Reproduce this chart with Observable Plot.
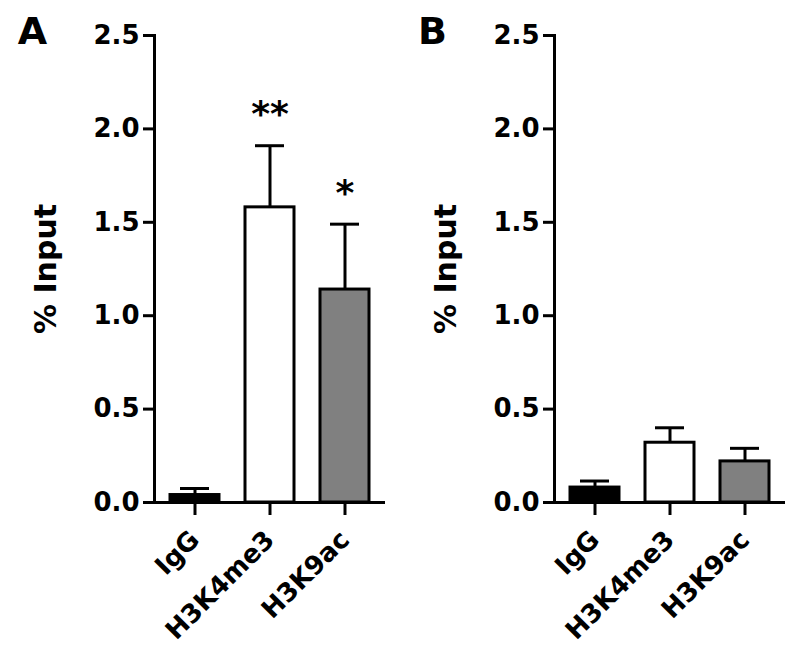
<!DOCTYPE html>
<html>
<head>
<meta charset="utf-8">
<script src="https://cdn.jsdelivr.net/npm/d3@7"></script>
<script src="https://cdn.jsdelivr.net/npm/@observablehq/plot@0.6"></script>
<style>
  html, body { margin: 0; padding: 0; background: #fff; }
  #row { display: flex; flex-direction: row; width: 800px; height: 662px; }
  #row svg { display: block; }
</style>
</head>
<body>
<div id="row"></div>
<script>
const categories = ["IgG", "H3K4me3", "H3K9ac"];
const fills = ["#000000", "#ffffff", "#808080"];
const meansA = [0.04, 1.58, 1.14];
const semA = [0.035, 0.33, 0.35];
const starsA = ["", "**", "*"];
const meansB = [0.08, 0.32, 0.22];
const semB = [0.035, 0.08, 0.07];
const starsB = ["", "", ""];
const yTicks = [0, 0.5, 1.0, 1.5, 2.0, 2.5];
const panelLabels = ["A", "B"];
const yLabel = "% Input";

function panel(letter, means, sems, stars) {
  const data = categories.map((c, i) => ({cat: c, mean: means[i], sem: sems[i], fill: fills[i], star: stars[i]}));
  const upper = d => d.mean + d.sem;
  return Plot.plot({
    width: 400,
    height: 662,
    marginTop: 35,
    marginBottom: 160,
    marginLeft: 154,
    marginRight: 15,
    style: {fontFamily: "DejaVu Sans", color: "#000", background: "#fff", overflow: "visible"},
    x: {domain: categories, paddingInner: 0.34, paddingOuter: 0.19},
    y: {domain: [0, 2.5]},
    color: {type: "identity"},
    marks: [
      Plot.ruleX(data, {x: "cat", y1: "mean", y2: upper, stroke: "#000", strokeWidth: 3}),
      Plot.tickY(data, {x: "cat", y: upper, stroke: "#000", strokeWidth: 3, insetLeft: 10, insetRight: 10}),
      Plot.barY(data, {x: "cat", y: "mean", fill: "fill", stroke: "#000", strokeWidth: 3}),
      Plot.text(data, {x: "cat", y: upper, text: "star", dy: -31, fontSize: 36, fontWeight: "bold", fill: "#000"}),
      Plot.axisY({ticks: yTicks, tickFormat: d3.format(".1f"), tickSize: 11, tickPadding: 4, strokeWidth: 3, fontSize: 26, fontWeight: "bold", label: null}),
      Plot.axisX({tickSize: 13, tickPadding: 20, strokeWidth: 3, tickRotate: -45, fontSize: 26, fontWeight: "bold", label: null}),
      Plot.frame({anchor: "left", stroke: "#000", strokeWidth: 3}),
      Plot.ruleY([0], {stroke: "#000", strokeWidth: 3}),
      Plot.text([yLabel], {text: d => d, frameAnchor: "left", textAnchor: "middle", lineAnchor: "middle", dx: -108, rotate: -90, fontSize: 30, fontWeight: "bold", fill: "#000"}),
      Plot.text([letter], {text: d => d, frameAnchor: "top-left", textAnchor: "middle", lineAnchor: "middle", dx: -122, dy: -4, fontSize: 38, fontWeight: "bold", fill: "#000"})
    ]
  });
}

const row = document.getElementById("row");
row.appendChild(panel(panelLabels[0], meansA, semA, starsA));
row.appendChild(panel(panelLabels[1], meansB, semB, starsB));
</script>
</body>
</html>
